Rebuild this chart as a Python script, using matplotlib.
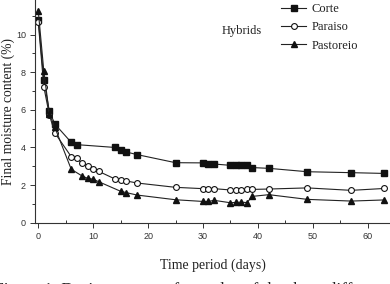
import matplotlib
matplotlib.use("Agg")
import matplotlib.pyplot as plt
from matplotlib.ticker import MultipleLocator

corte_days = [0, 1, 2, 3, 6, 7, 14, 15, 16, 18, 25, 30, 31, 32, 35, 36, 37, 38, 39, 42, 49, 57, 63]
corte_vals = [10.8, 7.6, 5.95, 5.25, 4.27, 4.15, 4.0, 3.87, 3.76, 3.62, 3.19, 3.18, 3.1, 3.12,
              3.05, 3.05, 3.05, 3.05, 2.93, 2.89, 2.71, 2.66, 2.62]

paraiso_days = [0, 1, 2, 3, 6, 7, 8, 9, 10, 11, 14, 15, 16, 18, 25, 30, 31, 32, 35, 36, 37, 38, 39, 42, 49, 57, 63]
paraiso_vals = [10.65, 7.23, 5.75, 4.78, 3.51, 3.44, 3.15, 3.03, 2.86, 2.73, 2.32, 2.28, 2.22, 2.11,
                1.88, 1.81, 1.81, 1.81, 1.74, 1.74, 1.75, 1.77, 1.77, 1.79, 1.85, 1.72, 1.82]

pastoreio_days = [0, 1, 2, 3, 6, 8, 9, 10, 11, 15, 16, 18, 25, 30, 31, 32, 35, 36, 37, 38, 39, 42, 49, 57, 63]
pastoreio_vals = [11.25, 8.08, 5.8, 5.08, 2.84, 2.48, 2.36, 2.31, 2.18, 1.67, 1.6, 1.47, 1.22,
                  1.13, 1.13, 1.19, 1.06, 1.08, 1.09, 1.07, 1.4, 1.49, 1.24, 1.15, 1.21]

series_names = ["Corte", "Paraiso", "Pastoreio"]
x_label = "Time period (days)"
y_label = "Final moisture content (%)"
legend_title = "Hybrids"
caption = "Figure 1. Drying curves of samples of the three different"

serif = ["Liberation Serif", "DejaVu Serif"]
sans = ["Liberation Sans", "DejaVu Sans"]

fig = plt.figure(figsize=(3.9, 2.84), dpi=100)
ax = fig.add_axes([35 / 390, 1 - 222.7 / 284, 1 - 35 / 390, 222.7 / 284])

lc = "#222222"
l1, = ax.plot(corte_days, corte_vals, color=lc, lw=0.8, marker="s", ms=4.2,
              mfc="#111111", mec="#111111", label=series_names[0])
l2, = ax.plot(paraiso_days, paraiso_vals, color=lc, lw=0.8, marker="o", ms=4.2,
              mfc="white", mec="#111111", mew=0.8, label=series_names[1])
l3, = ax.plot(pastoreio_days, pastoreio_vals, color=lc, lw=0.8, marker="^", ms=5,
              mfc="#111111", mec="#111111", label=series_names[2])

ax.set_xlim(-0.6, 64.06)
ax.set_ylim(0, 11.84)
ax.spines["top"].set_visible(False)
ax.spines["right"].set_visible(False)
for s in ("left", "bottom"):
    ax.spines[s].set_linewidth(0.8)
    ax.spines[s].set_color("#333333")

ax.xaxis.set_major_locator(MultipleLocator(10))
ax.xaxis.set_minor_locator(MultipleLocator(5))
ax.yaxis.set_major_locator(MultipleLocator(2))
ax.yaxis.set_minor_locator(MultipleLocator(1))
ax.tick_params(axis="both", which="major", direction="out", length=3.5, width=0.7,
               labelsize=6.5, colors="#333333", pad=3)
ax.tick_params(axis="x", which="minor", direction="in", length=2.5, width=0.7, colors="#333333")
ax.tick_params(axis="y", which="minor", direction="out", length=2.5, width=0.7, colors="#333333")
for lab in ax.get_xticklabels() + ax.get_yticklabels():
    lab.set_fontfamily(sans)

ax.set_xlabel(x_label, fontsize=10, family=serif, color="#222222", labelpad=13)
ax.set_ylabel(y_label, fontsize=9.8, family=serif, color="#222222", labelpad=1.0)

leg = ax.legend(handles=[l1, l2, l3], loc="upper left", bbox_to_anchor=(0.68, 1.008),
                frameon=False, prop={"family": serif, "size": 9}, handlelength=2.0,
                handletextpad=0.4, labelspacing=0.5, borderaxespad=0)
for t in leg.get_texts():
    t.set_color("#222222")
fig.text(222 / 390, 1 - 31 / 284, legend_title, ha="left", va="center",
         fontsize=9, family=serif, color="#222222")

fig.text(-6 / 390, 1 - 294 / 284, caption, ha="left", va="baseline",
         fontsize=12.5, family=serif, color="#222222")

fig.savefig("out.png", dpi=100)
